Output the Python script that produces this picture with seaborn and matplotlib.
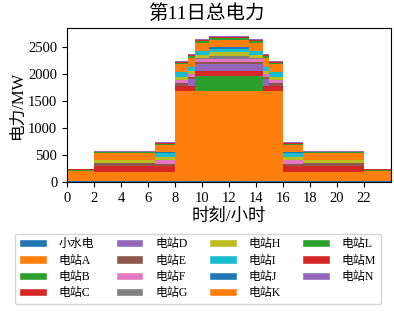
import matplotlib
matplotlib.use("Agg")
import matplotlib.pyplot as plt
from matplotlib.patches import Patch
import numpy as np
import pandas as pd
import seaborn as sns

# ---- data: 13 time segments (start hour of each segment), day ends at 24 ----
seg_start = [0, 2, 6.5, 8, 9, 9.5, 10.5, 13.5, 14.5, 15, 16, 17.5, 22]
day_end = 24

names = ['小水电', '电站A', '电站B', '电站C', '电站D', '电站E', '电站F',
         '电站G', '电站H', '电站I', '电站J', '电站K', '电站L', '电站M', '电站N']

small_hydro = [25, 25, 25, 25, 25, 25, 25, 25, 25, 25, 25, 25, 25]
station_a = [172, 155, 155, 1655, 1655, 1655, 1655, 1655, 1655, 1655, 155, 155, 172]
station_b = [0, 0, 0, 0, 0, 284, 284, 284, 0, 0, 0, 0, 0]
station_c = [0, 110, 110, 100, 105, 105, 105, 105, 105, 100, 110, 110, 0]
station_d = [0, 0, 0, 0, 123, 123, 123, 123, 123, 0, 0, 0, 0]
station_e = [0, 65, 50, 65, 50, 43, 43, 43, 50, 65, 50, 65, 0]
station_f = [0, 0, 70, 55, 50, 49, 49, 49, 50, 55, 70, 0, 0]
station_g = [0, 0, 0, 0, 0, 10, 62, 10, 0, 0, 0, 0, 0]
station_h = [0, 45, 45, 49, 50, 62, 62, 62, 50, 49, 45, 45, 0]
station_i = [0, 0, 80, 90, 85, 70, 62, 70, 85, 90, 80, 0, 0]
station_j = [0, 0, 15, 0, 0, 0, 31, 0, 0, 0, 15, 0, 0]
station_k = [0, 130, 130, 150, 160, 160, 142, 160, 160, 150, 130, 130, 0]
station_l = [25, 20, 30, 25, 30, 31, 31, 31, 30, 25, 30, 20, 25]
station_m = [12, 12, 15, 18, 20, 25, 25, 25, 20, 18, 15, 12, 12]
station_n = [6, 10, 10, 12, 15, 19, 19, 19, 15, 12, 10, 10, 6]

series = [small_hydro, station_a, station_b, station_c, station_d, station_e,
          station_f, station_g, station_h, station_i, station_j, station_k,
          station_l, station_m, station_n]

x_ticks = list(range(0, 24, 2))
y_ticks = [0, 500, 1000, 1500, 2000, 2500]

# ---- build long table ----
rows = []
for name, vals in zip(names, series):
    for t, v in zip(seg_start, vals):
        rows.append({'t': t, 's': name, 'v': v})
df = pd.DataFrame(rows)
edges = seg_start + [day_end]

sns.set_style('ticks', rc={'axes.edgecolor': 'black', 'xtick.color': 'black',
                           'ytick.color': 'black', 'text.color': 'black',
                           'axes.labelcolor': 'black'})
plt.rcParams['font.family'] = ['Liberation Serif', 'Noto Sans CJK SC']
plt.rcParams['axes.unicode_minus'] = False

tab = sns.color_palette('tab10', 10)
colors = [tab[i % 10] for i in range(len(names))]
palette = dict(zip(names, colors))

fig = plt.figure(figsize=(3.94, 3.12), dpi=100)
ax = fig.add_axes([0.170, 0.4167, 0.822, 0.493])

sns.histplot(data=df, x='t', weights='v', hue='s', hue_order=names[::-1],
             bins=edges, multiple='stack', palette=palette, alpha=1,
             linewidth=0, legend=False, ax=ax)

ax.set_xlim(0, day_end)
ax.set_ylim(0, 2855)
ax.set_xticks(x_ticks)
ax.set_yticks(y_ticks)
ax.tick_params(labelsize=10.5)
fig.text(0.525, 0.958, '第11日总电力', fontsize=14, ha='center', va='center')
ax.set_xlabel('时刻/小时', fontsize=12.5, labelpad=3)
ax.set_ylabel('电力/MW', fontsize=12, labelpad=2)
for sp in ax.spines.values():
    sp.set_visible(True)
    sp.set_color('black')

handles = [Patch(facecolor=c, label=n) for n, c in zip(names, colors)]
fig.legend(handles=handles, ncol=4, loc='lower center',
           bbox_to_anchor=(0.502, 0.006), fontsize=8.6, handlelength=2.3,
           handletextpad=1.0, columnspacing=1.8, labelspacing=0.36,
           frameon=True)

fig.savefig('out.png', dpi=100)
